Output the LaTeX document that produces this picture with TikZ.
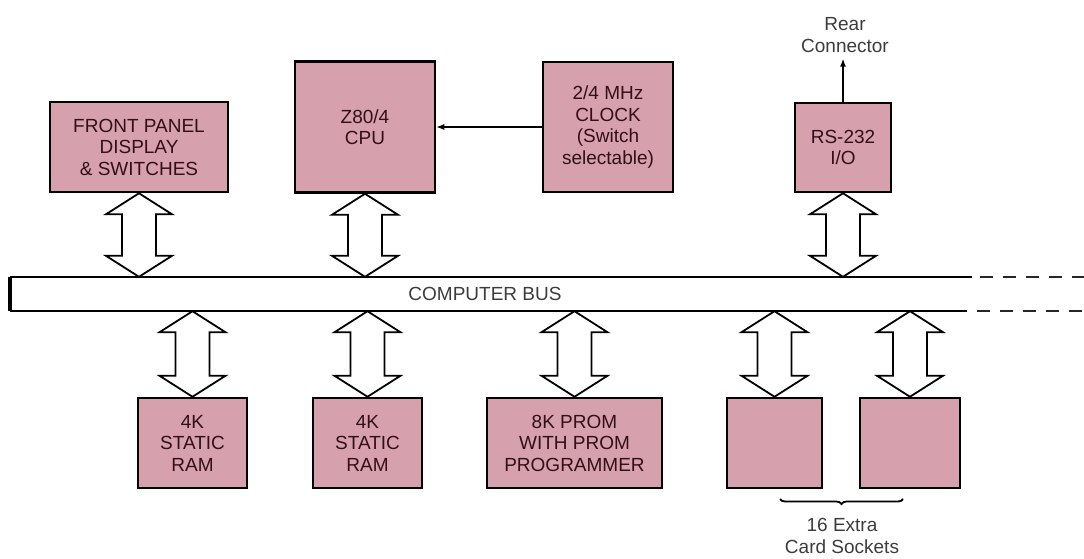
\documentclass[tikz,border=0pt]{standalone}
\usepackage{fontspec}
\setmainfont{Liberation Sans}
\usetikzlibrary{calc,arrows.meta,decorations.pathreplacing}
\definecolor{boxfill}{RGB}{214,160,172}
\definecolor{boxtext}{RGB}{50,15,25}
\definecolor{labeltext}{RGB}{60,60,60}
% hollow double-headed bus arrow: x from #1, top tip at y of #2, bottom tip at y of #3
\newcommand{\busarrow}[3]{\draw[dblarrow] let \p1=(#1), \p2=(#2), \p3=(#3) in
  (\x1,\y2) -- (\x1+33pt,\y2-21pt) -- (\x1+17pt,\y2-21pt) -- (\x1+17pt,\y3+21pt)
  -- (\x1+33pt,\y3+21pt) -- (\x1,\y3) -- (\x1-33pt,\y3+21pt) -- (\x1-17pt,\y3+21pt)
  -- (\x1-17pt,\y2-21pt) -- (\x1-33pt,\y2-21pt) -- cycle;}
\begin{document}
\begin{tikzpicture}[x=1pt,y=-1pt,
  font=\fontsize{19}{21.5}\selectfont,
  blk/.style={draw=black, line width=2.5pt, fill=boxfill, text=boxtext, align=center, inner sep=0pt},
  dblarrow/.style={draw=black, line width=1.8pt, fill=white},
  lbl/.style={text=labeltext, align=center, inner sep=0pt},
  busline/.style={draw=black, line width=1.8pt},
  busdash/.style={draw=black!85, line width=1.8pt, dash pattern=on 13pt off 10pt}]
\useasboundingbox (0,0) rectangle (1084,558);
\fill[white] (0,0) rectangle (1084,558);

% top row
\node[blk, minimum width=178pt, minimum height=90pt] (fp) at (139,147) {FRONT PANEL\\DISPLAY\\\& SWITCHES};
\node[blk, minimum width=140pt, minimum height=131pt] (cpu) at (365,127) {Z80/4\\CPU};
\node[blk, minimum width=130pt, minimum height=130pt] (clk) at (608,127) {2/4 MHz\\CLOCK\\(Switch\\selectable)};
\node[blk, minimum width=96pt, minimum height=89pt] (rs) at (843,147.5) {RS-232\\I/O};
\node[lbl] (rear) at (845,35) {Rear\\Connector};

% bus
\node[lbl, minimum width=950pt, minimum height=34pt] (bus) at (485,294) {COMPUTER BUS};
\draw[busline] (bus.north west) -- ++(962,0) coordinate (bte);
\draw[busline] (bus.south west) -- ++(957,0) coordinate (bbe);
\draw[busdash] ($(bte)+(8,0)$) -- ++(110,0);
\draw[busdash] ($(bbe)+(10,0)$) -- ++(110,0);
\draw[line width=4pt] (bus.north west) -- (bus.south west);

% bottom row
\node[blk, minimum width=109pt, minimum height=90pt] (ram1) at (192.5,443) {4K\\STATIC\\RAM};
\node[blk, minimum width=109pt, minimum height=90pt] (ram2) at (367.5,443) {4K\\STATIC\\RAM};
\node[blk, minimum width=175pt, minimum height=90pt] (prom) at (574.5,443) {8K PROM\\WITH PROM\\PROGRAMMER};
\node[blk, minimum width=95pt, minimum height=90pt] (card1) at (774.5,443) {};
\node[blk, minimum width=100pt, minimum height=90pt] (card2) at (910,443) {};

% connectors
\draw[-{Latex[length=8pt,width=6pt]}, line width=1.2pt] (clk.west) -- (cpu.east);
\draw[-{Latex[length=8pt,width=6pt]}, line width=1.4pt, shorten >=6pt] (rs.north) -- (rs.north |- rear.south);

\busarrow{fp.south}{fp.south}{bus.north}
\busarrow{cpu.south}{cpu.south}{bus.north}
\busarrow{rs.south}{rs.south}{bus.north}
\busarrow{ram1.north}{bus.south}{ram1.north}
\busarrow{ram2.north}{bus.south}{ram2.north}
\busarrow{prom.north}{bus.south}{prom.north}
\busarrow{card1.north}{bus.south}{card1.north}
\busarrow{card2.north}{bus.south}{card2.north}

% brace and label
\coordinate (bl) at (780,499);
\coordinate (br) at (903,499);
\draw[line width=1.8pt, decorate, decoration={brace, mirror, amplitude=5pt, aspect=0.5}] (bl) -- (br);
\node[lbl] (sock) at (842,536) {16 Extra\\Card Sockets};
\end{tikzpicture}
\end{document}
